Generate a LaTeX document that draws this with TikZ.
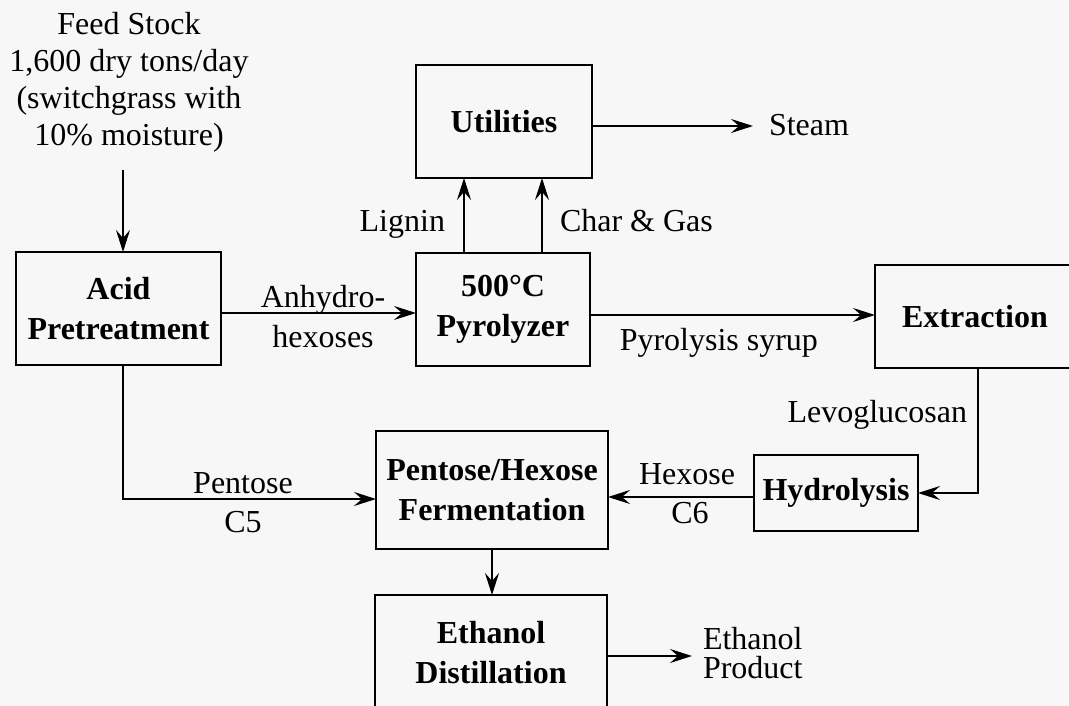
\documentclass[tikz,border=0pt]{standalone}
\usepackage{fontspec}
\setmainfont{Liberation Serif}
\usetikzlibrary{arrows.meta}
\definecolor{bg}{HTML}{F7F7F7}
\begin{document}
\begin{tikzpicture}[x=1pt,y=-1pt,
  box/.style={draw, line width=2.3pt, inner sep=0pt, outer sep=0pt, align=center,
    font=\fontsize{32}{40}\selectfont\bfseries},
  lbl/.style={inner sep=0pt, outer sep=0pt, font=\fontsize{32}{37}\selectfont},
  flow/.style={line width=2.3pt, -{Stealth[length=22pt,width=14pt,inset=8pt]}},
  pipe/.style={line width=2.3pt}]
\useasboundingbox (0,0) rectangle (1069,706);
\fill[bg] (0,0) rectangle (1069,706);
\clip (0,0) rectangle (1069,706);

% boxes
\node[box, minimum width=205pt, minimum height=113pt] (acid) at (118.5,308.5) {Acid\\Pretreatment};
\node[box, minimum width=174pt, minimum height=113pt] (pyro) at (503,309.5) {500°C\\Pyrolyzer};
\node[box, minimum width=176pt, minimum height=113pt] (util) at (504,121.5) {Utilities};
\node[box, minimum width=210pt, minimum height=103pt] (extr) at (980,316.5) {\hspace*{-10pt}Extraction};
\node[box, minimum width=164pt, minimum height=76pt] (hydro) at (836,493) {Hydrolysis};
\node[box, minimum width=232pt, minimum height=118pt] (ferm) at (492,490) {Pentose/Hexose\\Fermentation};
\node[box, minimum width=232pt, minimum height=115pt] (dist) at (491,652.5) {Ethanol\\Distillation};

% helper coordinates
\coordinate (feedtop) at (123,170);
\coordinate (ya) at (0,313);
\coordinate (ys) at (0,315);
\coordinate (xlig) at (464,0);
\coordinate (xchar) at (542,0);
\coordinate (steamend) at (753,126);
\coordinate (xlev) at (978,0);
\coordinate (yhex) at (0,497);
\coordinate (ypent) at (0,499);
\coordinate (ethend) at (692,656);

% connectors
\draw[flow] (feedtop) -- (feedtop |- acid.north);
\draw[flow] (acid.east |- ya) -- (pyro.west |- ya);
\draw[flow] (pyro.east |- ys) -- (extr.west |- ys);
\draw[flow] (pyro.north -| xlig) -- (util.south -| xlig);
\draw[flow] (pyro.north -| xchar) -- (util.south -| xchar);
\draw[flow] (util.east |- steamend) -- (steamend);
\draw[flow] (extr.south -| xlev) |- (hydro.east);
\draw[flow] (hydro.west |- yhex) -- (ferm.east |- yhex);
\draw[flow] (acid.south -| feedtop) |- (ferm.west |- ypent);
\draw[flow] (ferm.south) -- (dist.north -| ferm.south);
\draw[flow] (dist.east |- ethend) -- (ethend);

% labels
\node[lbl, anchor=base] (f1) at (129,35) {Feed Stock};
\node[lbl, anchor=base] (f2) at (129,72) {1,600 dry tons/day};
\node[lbl, anchor=base] (f3) at (129,109) {(switchgrass with};
\node[lbl, anchor=base] (f4) at (129,146) {10\% moisture)};
\node[lbl, anchor=base] (an1) at (323,307) {Anhydro-};
\node[lbl, anchor=base] (an2) at (323,347) {hexoses};
\node[lbl, anchor=base east] (lig) at (445,232) {Lignin};
\node[lbl, anchor=base west] (chg) at (560,232) {Char \& Gas};
\node[lbl, anchor=base west] (stm) at (769,136) {Steam};
\node[lbl, anchor=base east] (syr) at (818,350) {Pyrolysis syrup};
\node[lbl, anchor=base east] (lev) at (967,422) {Levoglucosan};
\node[lbl, anchor=base] (hx1) at (687,484) {Hexose};
\node[lbl, anchor=base] (hx2) at (690,523) {C6};
\node[lbl, anchor=base] (pt1) at (243,493) {Pentose};
\node[lbl, anchor=base] (pt2) at (243,532) {C5};
\node[lbl, anchor=base west] (et1) at (703,649) {Ethanol};
\node[lbl, anchor=base west] (et2) at (703,678) {Product};
\end{tikzpicture}
\end{document}
